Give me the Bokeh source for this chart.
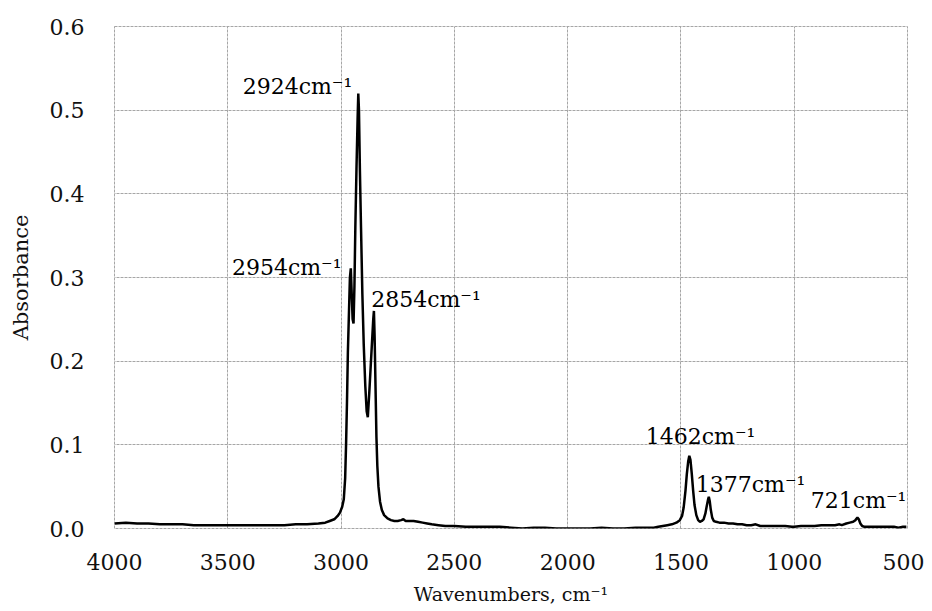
from bokeh.plotting import figure
from bokeh.models import FixedTicker, CustomJSTickFormatter, Range1d, ColumnDataSource, LabelSet
from bokeh.core.properties import value
from bokeh.embed import file_html
from bokeh.resources import INLINE

# ---- spectrum data ----
wavenumber = [4000, 3950, 3900, 3850, 3800, 3750, 3700, 3650, 3600, 3550, 3500, 3450, 3400, 3350, 3300,
              3250, 3200, 3150, 3100, 3070, 3050, 3030, 3015, 3005, 2995, 2988, 2982, 2978, 2974, 2970,
              2965, 2961, 2957, 2953, 2949, 2945, 2941, 2937, 2932, 2927, 2924, 2921, 2917, 2912, 2906,
              2900, 2893, 2887, 2882, 2876, 2870, 2864, 2858, 2855, 2852, 2848, 2844, 2840, 2835, 2828,
              2820, 2810, 2795, 2780, 2765, 2750, 2735, 2725, 2715, 2700, 2680, 2660, 2640, 2620, 2600,
              2570, 2540, 2500, 2450, 2400, 2350, 2300, 2250, 2200, 2150, 2100, 2050, 2000, 1950, 1900,
              1850, 1800, 1750, 1700, 1650, 1620, 1600, 1580, 1560, 1540, 1520, 1505, 1495, 1488, 1480,
              1474, 1468, 1463, 1458, 1452, 1446, 1440, 1432, 1424, 1416, 1408, 1400, 1392, 1386, 1380,
              1377, 1373, 1368, 1362, 1355, 1345, 1330, 1310, 1290, 1270, 1250, 1230, 1210, 1190, 1170,
              1150, 1130, 1100, 1070, 1040, 1010, 1000, 970, 940, 910, 880, 850, 820, 800, 790,
              770, 755, 740, 730, 721, 715, 708, 700, 690, 670, 650, 620, 600, 580, 560,
              540, 520, 505]
absorbance = [0.006, 0.007, 0.006, 0.006, 0.005, 0.005, 0.005, 0.004, 0.004, 0.004, 0.004, 0.004, 0.004, 0.004, 0.004,
              0.004, 0.005, 0.005, 0.006, 0.007, 0.009, 0.011, 0.015, 0.019, 0.026, 0.035, 0.060, 0.100, 0.150, 0.210,
              0.260, 0.300, 0.311, 0.280, 0.250, 0.245, 0.290, 0.360, 0.430, 0.490, 0.520, 0.500, 0.430, 0.360, 0.280,
              0.220, 0.170, 0.140, 0.133, 0.160, 0.190, 0.220, 0.250, 0.260, 0.230, 0.170, 0.110, 0.075, 0.050, 0.032,
              0.022, 0.016, 0.012, 0.010, 0.009, 0.009, 0.010, 0.011, 0.009, 0.009, 0.009, 0.008, 0.007, 0.006, 0.005,
              0.004, 0.003, 0.003, 0.002, 0.002, 0.002, 0.002, 0.001, 0.000, 0.001, 0.001, 0.000, 0.000, 0.000, 0.000,
              0.001, 0.000, 0.000, 0.001, 0.001, 0.001, 0.002, 0.003, 0.004, 0.005, 0.007, 0.010, 0.015, 0.025, 0.045,
              0.065, 0.080, 0.087, 0.082, 0.065, 0.045, 0.028, 0.016, 0.010, 0.008, 0.009, 0.011, 0.018, 0.027, 0.035,
              0.038, 0.033, 0.022, 0.013, 0.009, 0.008, 0.007, 0.007, 0.006, 0.006, 0.005, 0.005, 0.004, 0.004, 0.005,
              0.003, 0.003, 0.003, 0.003, 0.003, 0.002, 0.002, 0.003, 0.003, 0.003, 0.004, 0.004, 0.004, 0.005, 0.004,
              0.006, 0.007, 0.008, 0.010, 0.013, 0.011, 0.006, 0.003, 0.002, 0.002, 0.002, 0.002, 0.002, 0.002, 0.002,
              0.001, 0.002, 0.002]

# ---- peak annotations ----
peak_wn = [2954, 2924, 2854, 1462, 1377, 721]
peak_abs = [0.311, 0.520, 0.260, 0.087, 0.038, 0.013]
peak_labels = ["2954cm⁻¹", "2924cm⁻¹", "2854cm⁻¹", "1462cm⁻¹", "1377cm⁻¹", "721cm⁻¹"]

x_ticks = [4000, 3500, 3000, 2500, 2000, 1500, 1000, 500]
y_ticks = [0.0, 0.1, 0.2, 0.3, 0.4, 0.5, 0.6]

FONT = "DejaVu Serif"
GRID = "#a6a6a6"

p = figure(width=924, height=608, output_backend="svg", toolbar_location=None,
           x_range=Range1d(4000, 500), y_range=Range1d(0, 0.6),
           min_border_left=114, min_border_right=17, min_border_top=26, min_border_bottom=80)

p.line(wavenumber, absorbance, line_color="black", line_width=2.5)

# label placements (screen offsets relative to each peak)
align = ["right", "right", "left", "center", "left", "right"]
xoff = [-10, -6, -3, 11, -13, 49]
yoff = [-7, -1, 4, 12, 5, 10]
src = ColumnDataSource(dict(x=peak_wn, y=peak_abs, t=peak_labels, a=align, xo=xoff, yo=yoff))
labels = LabelSet(x="x", y="y", text="t", source=src, text_align="a", x_offset="xo", y_offset="yo",
                  text_baseline=value("alphabetic"), text_font=value(FONT),
                  text_font_size=value("22px"), text_color=value("black"))
p.add_layout(labels)

p.xaxis.ticker = FixedTicker(ticks=x_ticks)
p.yaxis.ticker = FixedTicker(ticks=y_ticks)
p.yaxis.formatter = CustomJSTickFormatter(code="return tick.toFixed(1);")
p.xaxis.axis_label = "Wavenumbers, cm⁻¹"
p.yaxis.axis_label = "Absorbance"

for ax in (p.xaxis, p.yaxis):
    ax.axis_line_color = None
    ax.major_tick_line_color = None
    ax.minor_tick_line_color = None
    ax.major_tick_out = 0
    ax.major_tick_in = 0
    ax.major_label_text_font = FONT
    ax.major_label_text_font_size = "22px"
    ax.major_label_text_color = "#111111"
    ax.axis_label_text_font = FONT
    ax.axis_label_text_font_style = "normal"
    ax.axis_label_text_color = "#111111"

p.xaxis.axis_label_text_font_size = "19px"
p.yaxis.axis_label_text_font_size = "21px"
p.xaxis.major_label_standoff = 25
p.xaxis.axis_label_standoff = 10
p.yaxis.major_label_standoff = 30
p.yaxis.axis_label_standoff = 14

p.xgrid.ticker = FixedTicker(ticks=x_ticks)
p.ygrid.ticker = FixedTicker(ticks=y_ticks)
for g in (p.xgrid, p.ygrid):
    g.grid_line_color = GRID
    g.grid_line_dash = "3 1"
    g.grid_line_width = 1

p.outline_line_color = GRID
p.outline_line_dash = "3 1"
p.background_fill_color = "white"
p.border_fill_color = "white"

open("out.html", "w").write(file_html(p, INLINE))
